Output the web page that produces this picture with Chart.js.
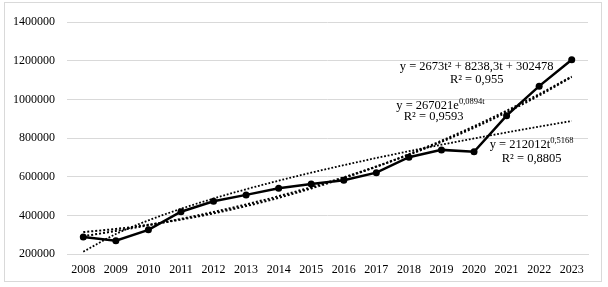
<!DOCTYPE html>
<html>
<head>
<meta charset="utf-8">
<script src="https://cdn.jsdelivr.net/npm/chart.js@4.4.1/dist/chart.umd.min.js"></script>
<style>
  html, body { margin: 0; padding: 0; background: #fff; }
  #wrap {
    position: absolute; left: 4px; top: 2px;
    width: 598px; height: 280px;
    border: 1px solid #d9d9d9; box-sizing: border-box;
  }
</style>
</head>
<body>
<div id="wrap"><canvas id="chart"></canvas></div>
<script>
const years = ['2008', '2009', '2010', '2011', '2012', '2013', '2014', '2015',
               '2016', '2017', '2018', '2019', '2020', '2021', '2022', '2023'];
const values = [288000, 269000, 325000, 419000, 473000, 506000, 540000, 562000,
                582000, 621000, 701000, 739000, 729000, 916000, 1069000, 1206000];
// trend lines, taken from the equations printed on the chart (t = 1..16)
const polyTrend = [313389, 329647, 351250, 378199, 410495, 448136, 491123, 539456,
                   593136, 652161, 716532, 786250, 861313, 941722, 1027478, 1118579];
const expTrend = [291993, 319298, 349160, 381814, 417520, 456563, 499267, 545957,
                  597013, 652848, 713903, 780668, 853677, 933511, 1020814, 1116281];
const powTrend = [212012, 303347, 374069, 434010, 487035, 535203, 579556, 621005,
                  659951, 696905, 732056, 765745, 798035, 829265, 859413, 888542];
const yTicks = [200000, 400000, 600000, 800000, 1000000, 1200000, 1400000];

const FONT = "'Liberation Serif', 'Times New Roman', serif";

// equation labels: [x index, y value, parts]
const notes = [
  [12.08, 1170000, [['y = 2673t² + 8238,3t + 302478']]],
  [12.08, 1104000, [['R² = 0,955']]],
  [10.97, 967000, [['y = 267021e'], ['0,0894t', 1]]],
  [10.76, 912000, [['R² = 0,9593']]],
  [13.77, 765000, [['y = 212012t'], ['0,5168', 1]]],
  [13.77, 695000, [['R² = 0,8805']]]
];

const notesPlugin = {
  id: 'notes',
  afterDatasetsDraw(chart) {
    const ctx = chart.ctx;
    const xs = chart.scales.x, ys = chart.scales.y;
    ctx.save();
    ctx.fillStyle = '#000';
    ctx.textBaseline = 'middle';
    ctx.textAlign = 'left';
    notes.forEach(function (n) {
      const cx = xs.getPixelForValue(n[0]);
      const cy = ys.getPixelForValue(n[1]);
      let w = 0;
      n[2].forEach(function (p) {
        ctx.font = (p[1] ? '8.5px ' : '12.5px ') + FONT;
        w += ctx.measureText(p[0]).width;
      });
      let x = cx - w / 2;
      n[2].forEach(function (p) {
        ctx.font = (p[1] ? '8.5px ' : '12.5px ') + FONT;
        ctx.fillText(p[0], x, p[1] ? cy - 4 : cy);
        x += ctx.measureText(p[0]).width;
      });
    });
    ctx.restore();
  }
};

const trendStyle = {
  borderColor: '#000',
  pointRadius: 0,
  fill: false,
  cubicInterpolationMode: 'monotone'
};

new Chart(document.getElementById('chart'), {
  type: 'line',
  data: {
    labels: years,
    datasets: [
      {
        data: values,
        borderColor: '#000',
        backgroundColor: '#000',
        borderWidth: 2.5,
        pointRadius: 3.5,
        pointBorderWidth: 0,
        order: 0
      },
      Object.assign({ data: polyTrend, borderWidth: 2, borderDash: [2, 2], order: 1 }, trendStyle),
      Object.assign({ data: expTrend, borderWidth: 2, borderDash: [2, 2], order: 2 }, trendStyle),
      Object.assign({ data: powTrend, borderWidth: 1.8, borderDash: [1.8, 1.8], order: 3 }, trendStyle)
    ]
  },
  options: {
    responsive: true,
    maintainAspectRatio: false,
    animation: false,
    layout: { padding: { top: 14, right: 13, left: 0, bottom: 0 } },
    plugins: { legend: { display: false }, tooltip: { enabled: false } },
    scales: {
      x: {
        offset: true,
        grid: { display: false, drawTicks: false },
        border: { display: true, color: '#d9d9d9', width: 1 },
        ticks: { color: '#000', font: { family: FONT, size: 12 }, padding: 9, maxRotation: 0, autoSkip: false },
        afterFit(scale) { scale.height = 27; }
      },
      y: {
        min: 200000,
        max: 1400000,
        afterBuildTicks(scale) { scale.ticks = yTicks.map(v => ({ value: v })); },
        grid: { color: '#d9d9d9', drawTicks: false },
        border: { display: false },
        ticks: {
          color: '#000',
          font: { family: FONT, size: 12 },
          padding: 12,
          callback: v => String(v)
        },
        afterFit(scale) { scale.width = 62; }
      }
    }
  },
  plugins: [notesPlugin]
});
</script>
</body>
</html>
